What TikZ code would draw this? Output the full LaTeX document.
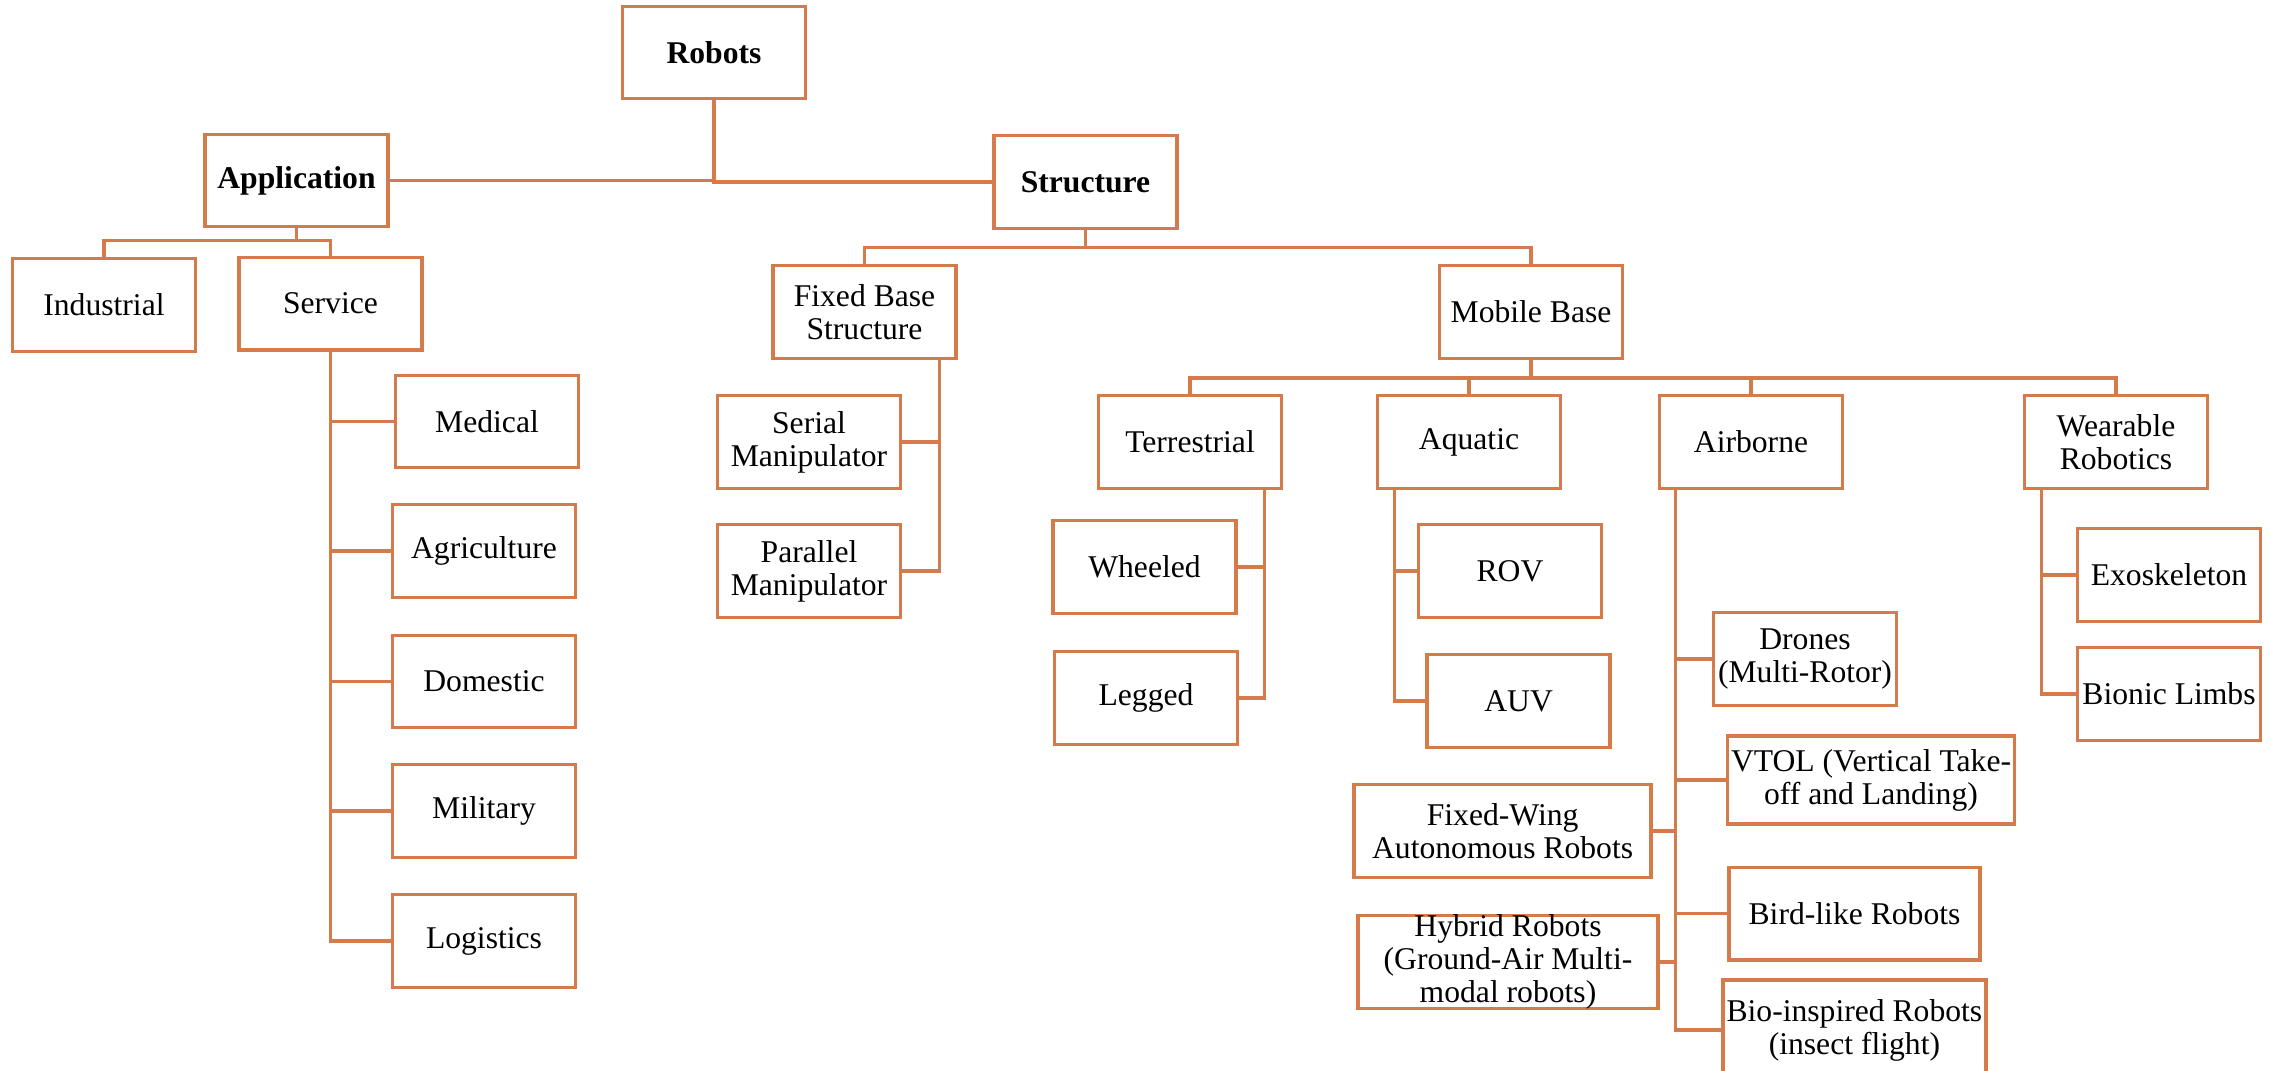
\documentclass[tikz,border=0pt]{standalone}
\usepackage{fontspec}
\setmainfont{Liberation Serif}
\usetikzlibrary{calc}
\definecolor{orng}{RGB}{213,123,75}

\begin{document}
\begin{tikzpicture}[x=0.1mm,y=-0.1mm,
  box/.style={draw=orng, line width=0.95pt, fill=white,
    minimum width=18.3mm, minimum height=9.25mm, inner sep=1pt,
    align=center, font=\fontsize{9}{9.4}\selectfont},
  head/.style={box, font=\fontsize{9}{9.4}\selectfont\bfseries},
  txt/.style={inner sep=0pt, align=center, font=\fontsize{9}{9.4}\selectfont},
  link/.style={draw=orng, line width=0.9pt}]
\useasboundingbox (0,0) rectangle (2270,1070);
\clip (0,0) rectangle (2270,1070);
\fill[white] (0,0) rectangle (2270,1070);

% top levels
\node[head] (robots) at (714,52.5) {Robots};
\node[head] (app) at (296.5,180.5) {Application};
\node[head] (struct) at (1085.5,182) {Structure};

% application branch
\node[box] (ind) at (104,305) {Industrial};
\node[box] (serv) at (330.5,303.6) {Service};
\node[box] (med) at (487,421.5) {Medical};
\node[box] (agr) at (484,551) {Agriculture};
\node[box] (dom) at (484,681.5) {Domestic};
\node[box] (mil) at (484,811) {Military};
\node[box] (log) at (484,941) {Logistics};

% structure branch
\node[box] (fixed) at (864.5,312) {Fixed Base\\Structure};
\node[box] (mobile) at (1531,312) {Mobile Base};
\node[box] (serial) at (809,442) {Serial\\Manipulator};
\node[box] (parallel) at (809,571) {Parallel\\Manipulator};

\node[box] (terr) at (1190,442) {Terrestrial};
\node[box] (aqua) at (1469,442) {Aquatic};
\node[box] (air) at (1751,442) {Airborne};
\node[box] (wear) at (2116,442) {Wearable\\Robotics};

\node[box] (wheel) at (1144.5,567) {Wheeled};
\node[box] (legged) at (1146,698) {Legged};
\node[box] (rov) at (1510,571) {ROV};
\node[box] (auv) at (1518.6,701) {AUV};

\node[box] (drones) at (1805,659) {Drones\\(Multi-Rotor)};
\node[box, minimum width=28.7mm, minimum height=8.8mm] (vtol) at (1871,780) {VTOL (Vertical Take-\\off and Landing)};
\node[box, minimum width=29.7mm] (fwing) at (1502.6,831) {Fixed-Wing\\Autonomous Robots};
\node[box, minimum width=25.1mm] (bird) at (1854.5,913.7) {Bird-like Robots};
\node[box, minimum width=30mm] (hybrid) at (1508,962) {};
\node[txt] (hybridtxt) at (hybrid.center) {Hybrid Robots\\(Ground-Air Multi-\\modal robots)};
\node[box, minimum width=26.3mm, minimum height=10mm] (bio) at (1854.4,1030) {Bio-inspired Robots\\(insect flight)};

\node[box] (exo) at (2169,575) {Exoskeleton};
\node[box] (bionic) at (2169,694) {Bionic Limbs};

% connectors: root
\draw[link] (robots.south) |- (app.east);
\draw[link] (robots.south) |- (struct.west);

% connectors: application
\draw[link] (app.south) -- ++(0,12) -| (ind.north);
\draw[link] (app.south) -- ++(0,12) -| (serv.north);
\foreach \n in {med,agr,dom,mil,log}
  \draw[link] (serv.south) |- (\n.west);

% connectors: structure
\draw[link] (struct.south) -- ++(0,17.5) -| (fixed.north);
\draw[link] (struct.south) -- ++(0,17.5) -| (mobile.north);
\coordinate (fbus) at ([xshift=-1.8mm]fixed.south east);
\draw[link] (fbus) |- (serial.east);
\draw[link] (fbus) |- (parallel.east);

% connectors: mobile base
\foreach \n in {terr,aqua,air,wear}
  \draw[link] (mobile.south) -- ++(0,18) -| (\n.north);

\coordinate (tbus) at ([xshift=-1.9mm]terr.south east);
\draw[link] (tbus) |- (wheel.east);
\draw[link] (tbus) |- (legged.east);

\coordinate (qbus) at ([xshift=1.85mm]aqua.south west);
\draw[link] (qbus) |- (rov.west);
\draw[link] (qbus) |- (auv.west);

\coordinate (abus) at ([xshift=1.8mm]air.south west);
\foreach \n in {drones,vtol,bird,bio}
  \draw[link] (abus) |- (\n.west);
\draw[link] (abus) |- (fwing.east);
\draw[link] (abus) |- (hybrid.east);

\coordinate (wbus) at ([xshift=1.9mm]wear.south west);
\draw[link] (wbus) |- (exo.west);
\draw[link] (wbus) |- (bionic.west);
\end{tikzpicture}
\end{document}
